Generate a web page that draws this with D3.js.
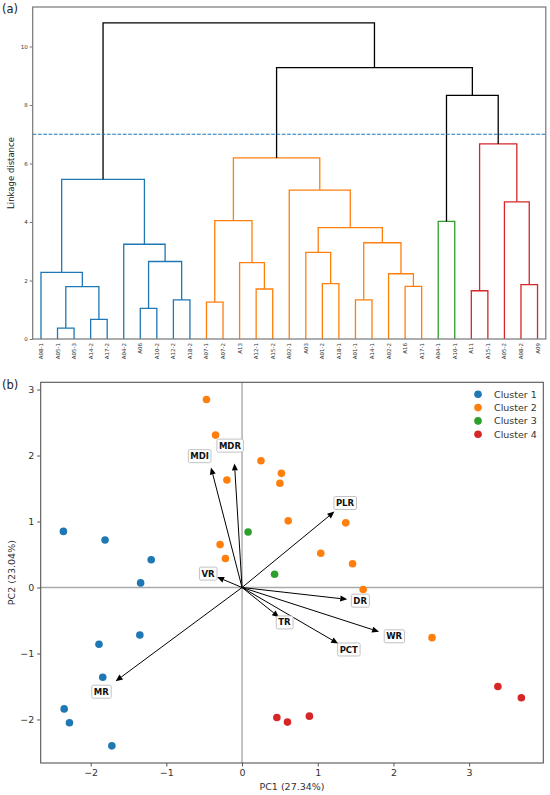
<!DOCTYPE html>
<html>
<head>
<meta charset="utf-8">
<script src="https://cdn.jsdelivr.net/npm/d3@7"></script>
<style>
  body { margin: 0; background: #fff; }
  svg { font-family: "DejaVu Sans", sans-serif; display: block; }
</style>
</head>
<body>
<svg id="chart" width="550" height="795"></svg>
<script>
// ---- dendrogram data (a) ----
const leaves = ["A08-1","A05-1","A05-3","A14-2","A17-2","A04-2","A06","A10-2","A12-2","A18-2",
  "A07-1","A07-2","A13","A12-1","A15-2","A02-1","A03","A01-2","A18-1","A01-1","A14-1",
  "A02-2","A16","A17-1","A04-1","A10-1","A11","A15-1","A05-2","A08-2","A09"]
const leafCluster = [1,1,1,1,1,1,1,1,1,1, 2,2,2,2,2,2,2,2,2,2,2,2,2,2, 3,3, 4,4,4,4,4]
// scipy style linkage: ids < 31 are leaves, id 31+k is merge k
const mergeA = [1,3,31,0,6,8,35,5,34, 10,13,12,40,17,16,19,22,21,46,45,15,43, 24, 26,29,28,54, 53,52,39]
const mergeB = [2,4,32,33,7,9,36,37,38, 11,14,41,42,18,44,20,23,47,48,49,50,51, 25, 27,30,55,56, 57,58,59]
const mergeH = [0.37,0.67,1.79,2.28,1.05,1.34,2.65,3.24,5.46,
  1.26,1.71,2.61,4.05,1.89,2.96,1.34,1.80,2.23,3.29,3.81,5.09,6.19,
  4.02, 1.65,1.86,4.69,6.67, 8.33,9.28,10.81]
const cutHeight = 7.0
const dendroTicks = [0,2,4,6,8,10]

// ---- PCA data (b) ----
const clusterNames = ["Cluster 1","Cluster 2","Cluster 3","Cluster 4"]
const colors = ["#1f77b4","#ff7f0e","#2ca02c","#d62728"]
const pc1 = [-2.36,-1.81,-1.20,-1.34,-1.35,-1.89,-1.84,-2.35,-2.28,-1.72,
  -0.47,-0.35,-0.20,0.25,-0.29,-0.22,0.52,0.50,0.61,1.37,1.04,1.46,1.60,2.51,
  0.08,0.43,
  0.46,0.60,0.89,3.38,3.69]
const pc2 = [0.85,0.72,0.42,0.07,-0.72,-0.86,-1.36,-1.84,-2.05,-2.40,
  2.85,2.31,1.63,1.92,0.65,0.44,1.73,1.58,1.01,0.98,0.52,0.36,-0.03,-0.76,
  0.84,0.20,
  -1.97,-2.04,-1.95,-1.50,-1.67]
const pointCluster = [1,1,1,1,1,1,1,1,1,1, 2,2,2,2,2,2,2,2,2,2,2,2,2,2, 3,3, 4,4,4,4,4]
const variables = ["MDI","MDR","VR","PLR","DR","WR","PCT","TR","MR"]
const loadX = [-0.41,-0.10,-0.33,1.22,1.39,1.81,1.27,0.49,-1.67]
const loadY = [1.82,1.88,0.16,1.15,-0.18,-0.67,-0.85,-0.45,-1.42]
const labelX = [-0.56,-0.16,-0.45,1.36,1.56,2.01,1.41,0.56,-1.86]
const labelY = [1.99,2.15,0.21,1.28,-0.20,-0.74,-0.94,-0.53,-1.58]
const pcTicks = [-2,-1,0,1,2,3]

const svg = d3.select("#chart")
const fmt = d => d < 0 ? "\u2212" + Math.abs(d) : String(d)

// ================= (a) dendrogram =================
const N = leaves.length
const dx = d3.scaleLinear().domain([0, 10 * N]).range([32.7, 545.8])
const dy = d3.scaleLinear().domain([0, 10.81 * 1.05]).range([339, 7])

const gA = svg.append("g")

// node positions: leaves first, then merges
const nodeX = [], nodeH = [], nodeCl = []
leaves.forEach((l, i) => { nodeX.push(5 + 10 * i); nodeH.push(0); nodeCl.push(leafCluster[i]) })
mergeA.forEach((a, k) => {
  const b = mergeB[k]
  nodeX.push((nodeX[a] + nodeX[b]) / 2)
  nodeH.push(mergeH[k])
  nodeCl.push(nodeCl[a] === nodeCl[b] ? nodeCl[a] : 0)
})

const links = mergeA.map((a, k) => ({a: a, b: mergeB[k], h: mergeH[k], cl: nodeCl[N + k]}))

gA.selectAll("path.link")
  .data(links)
  .join("path")
  .attr("class", "link")
  .attr("fill", "none")
  .attr("stroke-width", 1.3)
  .attr("stroke", d => (d.cl && d.h < cutHeight) ? colors[d.cl - 1] : "#000")
  .attr("d", d => "M" + dx(nodeX[d.a]) + "," + dy(nodeH[d.a]) +
    "V" + dy(d.h) + "H" + dx(nodeX[d.b]) + "V" + dy(nodeH[d.b]))

gA.append("line")
  .attr("x1", dx(0)).attr("x2", dx(10 * N))
  .attr("y1", dy(cutHeight)).attr("y2", dy(cutHeight))
  .attr("stroke", colors[0]).attr("stroke-width", 1)
  .attr("stroke-dasharray", "3.7,1.6")

// frame
gA.append("rect")
  .attr("x", dx(0)).attr("y", dy.range()[1])
  .attr("width", dx(10 * N) - dx(0)).attr("height", dy.range()[0] - dy.range()[1])
  .attr("fill", "none").attr("stroke", "#777").attr("stroke-width", 1.2)

const yAxA = gA.append("g")
  .attr("transform", "translate(" + dx(0) + ",0)")
  .call(d3.axisLeft(dy).tickValues(dendroTicks).tickSize(3).tickPadding(2))
yAxA.select(".domain").remove()
yAxA.selectAll("line").attr("stroke", "#777")
yAxA.selectAll("text").attr("font-size", 5.5).attr("fill", "#333").attr("font-family", "DejaVu Sans")

gA.selectAll("text.leaf")
  .data(leaves)
  .join("text")
  .attr("class", "leaf")
  .attr("transform", (d, i) => "translate(" + (dx(5 + 10 * i) + 2) + ",343) rotate(-90)")
  .attr("text-anchor", "end")
  .attr("font-size", 5.5)
  .attr("fill", "#333")
  .text(d => d)

gA.append("text")
  .attr("transform", "translate(14,173) rotate(-90)")
  .attr("text-anchor", "middle")
  .attr("font-size", 8.5)
  .attr("fill", "#222")
  .text("Linkage distance")

svg.append("text").attr("x", 2).attr("y", 13).attr("font-size", 11.5).attr("fill", "#222").text("(a)")

// ================= (b) PCA biplot =================
const px = d3.scaleLinear().domain([-2.66, 3.98]).range([40.7, 543.3])
const py = d3.scaleLinear().domain([-2.66, 3.11]).range([763, 382.3])

const gB = svg.append("g")

gB.append("line")
  .attr("x1", px(0)).attr("x2", px(0)).attr("y1", py.range()[1]).attr("y2", py.range()[0])
  .attr("stroke", "#aaa").attr("stroke-width", 1.4)
gB.append("line")
  .attr("x1", px.range()[0]).attr("x2", px.range()[1]).attr("y1", py(0)).attr("y2", py(0))
  .attr("stroke", "#aaa").attr("stroke-width", 1.4)

gB.selectAll("circle.pt")
  .data(pc1.map((v, i) => ({x: v, y: pc2[i], c: pointCluster[i]})))
  .join("circle")
  .attr("class", "pt")
  .attr("cx", d => px(d.x))
  .attr("cy", d => py(d.y))
  .attr("r", 3.8)
  .attr("fill", d => colors[d.c - 1])

// loading arrows
const arrows = variables.map((v, i) => ({name: v, x: loadX[i], y: loadY[i], lx: labelX[i], ly: labelY[i]}))
const headL = 7, headW = 3
arrows.forEach(d => {
  const x0 = px(0), y0 = py(0), x1 = px(d.x), y1 = py(d.y)
  const len = Math.hypot(x1 - x0, y1 - y0)
  const ux = (x1 - x0) / len, uy = (y1 - y0) / len
  const bx = x1 - ux * headL, by = y1 - uy * headL
  gB.append("line")
    .attr("x1", x0).attr("y1", y0).attr("x2", bx).attr("y2", by)
    .attr("stroke", "#000").attr("stroke-width", 1)
  gB.append("path")
    .attr("d", "M" + x1 + "," + y1 + "L" + (bx - uy * headW) + "," + (by + ux * headW) +
      "L" + (bx + uy * headW) + "," + (by - ux * headW) + "Z")
    .attr("fill", "#000")
})

const labG = gB.selectAll("g.lab")
  .data(arrows)
  .join("g")
  .attr("class", "lab")
  .attr("transform", d => "translate(" + px(d.lx) + "," + py(d.ly) + ")")
labG.append("text")
  .attr("text-anchor", "middle")
  .attr("dy", "0.35em")
  .attr("font-size", 8.5)
  .attr("font-weight", "bold")
  .attr("fill", "#111")
  .text(d => d.name)
labG.each(function () {
  const g = d3.select(this)
  const bb = g.select("text").node().getBBox()
  g.insert("rect", "text")
    .attr("x", bb.x - 2).attr("y", bb.y - 1.5)
    .attr("width", bb.width + 4).attr("height", bb.height + 3)
    .attr("rx", 1.5)
    .attr("fill", "#fff").attr("stroke", "#bbb").attr("stroke-width", 0.9)
})

gB.append("rect")
  .attr("x", px.range()[0]).attr("y", py.range()[1])
  .attr("width", px.range()[1] - px.range()[0]).attr("height", py.range()[0] - py.range()[1])
  .attr("fill", "none").attr("stroke", "#555").attr("stroke-width", 1.1)

const xAxB = gB.append("g")
  .attr("transform", "translate(0," + py.range()[0] + ")")
  .call(d3.axisBottom(px).tickValues(pcTicks).tickFormat(fmt).tickSize(3.5).tickPadding(3))
const yAxB = gB.append("g")
  .attr("transform", "translate(" + px.range()[0] + ",0)")
  .call(d3.axisLeft(py).tickValues(pcTicks).tickFormat(fmt).tickSize(3.5).tickPadding(3))
;[xAxB, yAxB].forEach(ax => {
  ax.select(".domain").remove()
  ax.selectAll("line").attr("stroke", "#555")
  ax.selectAll("text").attr("font-size", 9.5).attr("fill", "#333").attr("font-family", "DejaVu Sans")
})

gB.append("text")
  .attr("x", (px.range()[0] + px.range()[1]) / 2).attr("y", 790)
  .attr("text-anchor", "middle").attr("font-size", 9.5).attr("fill", "#333")
  .text("PC1 (27.34%)")
gB.append("text")
  .attr("transform", "translate(15," + ((py.range()[0] + py.range()[1]) / 2) + ") rotate(-90)")
  .attr("text-anchor", "middle").attr("font-size", 9.5).attr("fill", "#333")
  .text("PC2 (23.04%)")

// legend
const leg = gB.selectAll("g.leg")
  .data(clusterNames)
  .join("g")
  .attr("class", "leg")
  .attr("transform", (d, i) => "translate(478," + (394.3 + i * 13.3) + ")")
leg.append("circle").attr("r", 3.8).attr("fill", (d, i) => colors[i])
leg.append("text").attr("x", 16).attr("dy", "0.35em")
  .attr("font-size", 9.5).attr("fill", "#333").text(d => d)

svg.append("text").attr("x", 2).attr("y", 389).attr("font-size", 11.5).attr("fill", "#222").text("(b)")
</script>
</body>
</html>
